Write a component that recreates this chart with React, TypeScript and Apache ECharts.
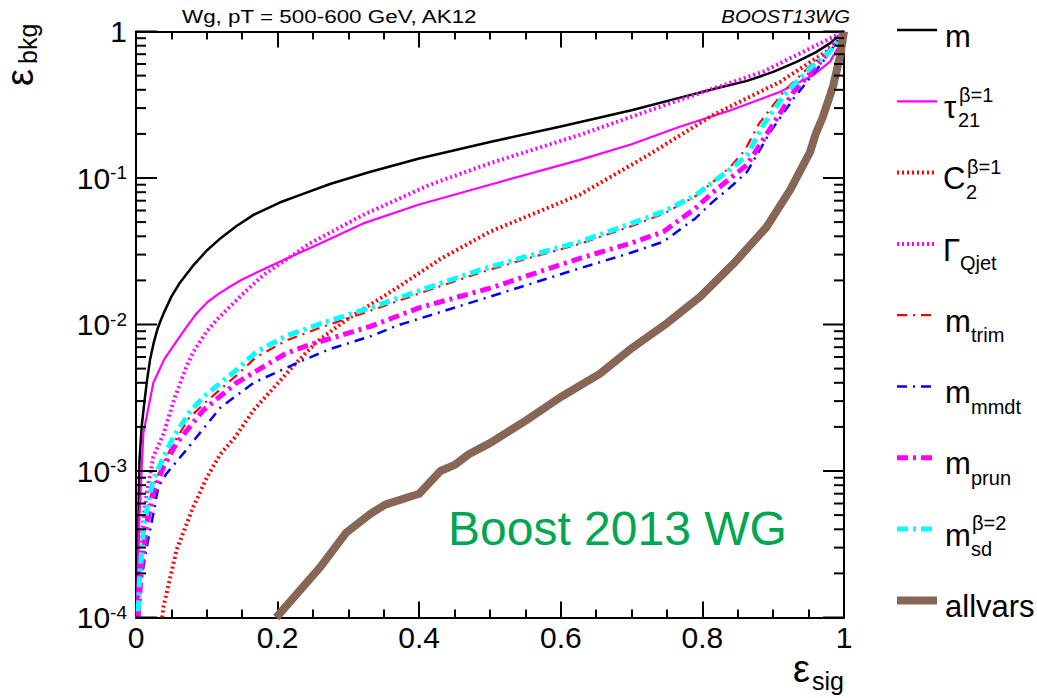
import React, { useEffect, useRef } from 'react';
import * as echarts from 'echarts';

const FONT = '"Liberation Sans", Arial, Helvetica, sans-serif';

// ROC curves: [signal efficiency, background efficiency]
const rocMass = [
  [0.002, 0.0001], [0.003, 0.0003], [0.004, 0.0007], [0.005, 0.0012], [0.008, 0.002],
  [0.012, 0.003], [0.016, 0.0043], [0.02, 0.0058], [0.025, 0.0075], [0.03, 0.0092],
  [0.035, 0.0107], [0.04, 0.0122], [0.05, 0.0155], [0.062, 0.0193], [0.08, 0.025],
  [0.1, 0.032], [0.12, 0.039], [0.142, 0.047], [0.166, 0.056], [0.203, 0.068],
  [0.236, 0.078], [0.274, 0.091], [0.33, 0.11], [0.4, 0.136], [0.5, 0.176], [0.6, 0.225],
  [0.7, 0.29], [0.77, 0.355], [0.82, 0.41], [0.863, 0.46], [0.9, 0.53], [0.933, 0.62],
  [0.96, 0.72], [0.98, 0.83], [0.994, 0.946], [1, 1],
];
const rocTau21 = [
  [0.001, 0.0001], [0.004, 0.0004], [0.0103, 0.0018], [0.0245, 0.004], [0.04, 0.0058],
  [0.055, 0.0074], [0.07, 0.0094], [0.085, 0.0118], [0.1, 0.0141], [0.115, 0.016],
  [0.13, 0.0178], [0.15, 0.0203], [0.193, 0.0255], [0.25, 0.034], [0.321, 0.049],
  [0.4, 0.066], [0.5, 0.09], [0.627, 0.133], [0.7, 0.17], [0.768, 0.224], [0.84, 0.29],
  [0.91, 0.388], [0.957, 0.505], [0.98, 0.62], [0.994, 0.81], [1, 1],
];
const rocC2 = [
  [0.037, 0.0001], [0.039, 0.00012], [0.0574, 0.00029], [0.081, 0.00057], [0.1, 0.0009],
  [0.119, 0.0013], [0.14, 0.0017], [0.166, 0.0026], [0.222, 0.0052], [0.255, 0.0076],
  [0.3, 0.011], [0.368, 0.0177], [0.43, 0.028], [0.5, 0.043], [0.627, 0.077],
  [0.72, 0.14], [0.815, 0.269], [0.91, 0.454], [0.975, 0.728], [1, 1],
];
const rocQjet = [
  [0.003, 0.0001], [0.0056, 0.00029], [0.015, 0.0007], [0.0245, 0.00125], [0.039, 0.0018],
  [0.055, 0.0032], [0.0716, 0.0052], [0.081, 0.0065], [0.1, 0.009], [0.119, 0.0114],
  [0.15, 0.016], [0.18, 0.0218], [0.246, 0.0358], [0.321, 0.056], [0.415, 0.09],
  [0.5, 0.126], [0.627, 0.197], [0.768, 0.341], [0.886, 0.532], [0.957, 0.788], [1, 1],
];
const rocTrim = [
  [0.003, 0.0001], [0.006, 0.0002], [0.011, 0.00036], [0.018, 0.0006], [0.025, 0.0008],
  [0.04, 0.00118], [0.055, 0.0016], [0.075, 0.0023], [0.1, 0.003], [0.142, 0.0045],
  [0.17, 0.006], [0.213, 0.0078], [0.27, 0.0099], [0.331, 0.0124], [0.4, 0.0163],
  [0.486, 0.0226], [0.55, 0.028], [0.627, 0.0355], [0.7, 0.047], [0.745, 0.057],
  [0.79, 0.075], [0.815, 0.094], [0.84, 0.12], [0.86, 0.155], [0.88, 0.235],
  [0.915, 0.39], [0.955, 0.6], [0.98, 0.74], [1, 1],
];
const rocMmdt = [
  [0.002, 0.0001], [0.0056, 0.00016], [0.015, 0.0003], [0.0245, 0.00051], [0.0315, 0.00078],
  [0.043, 0.00096], [0.0716, 0.0014], [0.081, 0.0016], [0.119, 0.0027], [0.166, 0.004],
  [0.236, 0.0057], [0.274, 0.0068], [0.331, 0.0083], [0.368, 0.0098], [0.5, 0.0155],
  [0.627, 0.0242], [0.7, 0.031], [0.745, 0.0368], [0.79, 0.053], [0.815, 0.069],
  [0.84, 0.087], [0.863, 0.11], [0.896, 0.207], [0.929, 0.35], [0.97, 0.62], [1, 1],
];
const rocPrun = [
  [0.003, 0.0001], [0.008, 0.00022], [0.015, 0.00042], [0.0245, 0.0007], [0.039, 0.00107],
  [0.0574, 0.00155], [0.095, 0.0026], [0.142, 0.004], [0.213, 0.0064], [0.25, 0.0074],
  [0.331, 0.0097], [0.4, 0.013], [0.5, 0.0177], [0.627, 0.0283], [0.7, 0.036],
  [0.745, 0.043], [0.79, 0.062], [0.815, 0.08], [0.84, 0.1], [0.863, 0.123],
  [0.896, 0.218], [0.929, 0.388], [0.975, 0.69], [1, 1],
];
const rocSoftDrop = [
  [0.003, 0.00011], [0.0056, 0.0002], [0.0103, 0.00038], [0.0174, 0.00063], [0.0245, 0.00087],
  [0.039, 0.00125], [0.0527, 0.0017], [0.075, 0.0025], [0.095, 0.0032], [0.142, 0.0049],
  [0.17, 0.0065], [0.213, 0.0084], [0.27, 0.0105], [0.331, 0.013], [0.4, 0.017],
  [0.486, 0.0236], [0.55, 0.029], [0.627, 0.0367], [0.7, 0.049], [0.745, 0.059],
  [0.79, 0.076], [0.815, 0.094], [0.84, 0.115], [0.863, 0.143], [0.886, 0.23],
  [0.919, 0.388], [0.957, 0.59], [0.98, 0.728], [1, 1],
];
const rocAllVars = [
  [0.198, 0.0001], [0.23, 0.00015], [0.26, 0.00022], [0.297, 0.00038], [0.331, 0.00051],
  [0.352, 0.00059], [0.4, 0.0007], [0.43, 0.001], [0.45, 0.0011], [0.47, 0.0013],
  [0.5, 0.00155], [0.55, 0.0022], [0.6, 0.0032], [0.655, 0.0046], [0.702, 0.007],
  [0.75, 0.0102], [0.797, 0.0155], [0.844, 0.026], [0.891, 0.0465], [0.924, 0.083],
  [0.952, 0.15], [0.96, 0.2], [0.97, 0.26], [0.985, 0.43], [0.995, 0.7], [1, 1],
];

// Log-axis tick positions: decades (major) and 2..9 within each decade (minor)
const decades = [1e-4, 1e-3, 1e-2, 1e-1];
const minorMultipliers = [2, 3, 4, 5, 6, 7, 8, 9];
const majorTickValues = [1e-4, 1e-3, 1e-2, 1e-1, 1];

const titleText = 'Wg, pT = 500-600 GeV, AK12';
const groupText = 'BOOST13WG';
const watermarkText = 'Boost 2013 WG';

// Plot frame geometry (pixels)
const GRID = { left: 136, top: 31.5, right: 193, bottom: 80.5 };
const CHART_W = 1037;
const CHART_H = 698;

type Curve = {
  name: string;
  data: number[][];
  color: string;
  width: number;
  dash: number[] | null;
  base: string;
  sub?: string;
  sup?: string;
};

const curves: Curve[] = [
  { name: 'm', data: rocMass, color: '#000000', width: 2.5, dash: null, base: 'm' },
  { name: 'tau21', data: rocTau21, color: '#ff00ff', width: 2.2, dash: null, base: 'τ', sub: '21', sup: 'β=1' },
  { name: 'C2', data: rocC2, color: '#ff0000', width: 4, dash: [2, 3], base: 'C', sub: '2', sup: 'β=1' },
  { name: 'GammaQjet', data: rocQjet, color: '#ff00ff', width: 4, dash: [2, 3], base: 'Γ', sub: 'Qjet' },
  { name: 'mtrim', data: rocTrim, color: '#ff0000', width: 2.2, dash: [10, 6, 2, 6], base: 'm', sub: 'trim' },
  { name: 'mmmdt', data: rocMmdt, color: '#0000ff', width: 2.5, dash: [10, 6, 2, 6], base: 'm', sub: 'mmdt' },
  { name: 'mprun', data: rocPrun, color: '#ff00ff', width: 5, dash: [11, 5, 3, 5], base: 'm', sub: 'prun' },
  { name: 'msd', data: rocSoftDrop, color: '#00ffff', width: 5, dash: [11, 5, 3, 5], base: 'm', sub: 'sd', sup: 'β=2' },
  { name: 'allvars', data: rocAllVars, color: '#876656', width: 8, dash: null, base: 'allvars' },
];

// Text placed by its alphabetic baseline (SVG uses a central baseline for "middle")
function textAt(x: number, baseline: number, text: string, fs: number, extra: any = {}) {
  return {
    type: 'text',
    x,
    y: baseline - 0.35 * fs,
    silent: true,
    style: {
      text,
      fontSize: fs,
      fontFamily: FONT,
      fill: '#000',
      align: 'left',
      textAlign: 'left',
      verticalAlign: 'middle',
      textVerticalAlign: 'middle',
      ...extra,
    },
  };
}

function buildLegend() {
  const els: any[] = [];
  const subX: Record<string, number> = { m: 971, 'τ': 958, C: 966, 'Γ': 960 };
  const baseX: Record<string, number> = { m: 945, 'τ': 944, C: 943, 'Γ': 943, allvars: 945 };
  curves.forEach((c, i) => {
    const baseline = 47 + i * 71.3;
    const ly = baseline - 17;
    els.push({
      type: 'line',
      silent: true,
      shape: { x1: 897, y1: ly, x2: 937, y2: ly },
      style: { stroke: c.color, lineWidth: c.width, lineDash: c.dash || undefined, lineCap: 'butt' },
    });
    els.push(textAt(baseX[c.base] ?? 945, baseline, c.base, 31));
    const sx = subX[c.base] ?? 971;
    if (c.sub) els.push(textAt(sx, baseline + (c.base === 'm' ? 10 : 9), c.sub, 20));
    if (c.sup) els.push(textAt(sx + 1, baseline - 16, c.sup, 20));
  });
  return els;
}

// Inward ticks on both vertical frame edges, from the log scale of the frame
function buildLogTicks() {
  const plotW = CHART_W - GRID.left - GRID.right;
  const plotH = CHART_H - GRID.top - GRID.bottom;
  const logMin = Math.log10(1e-4);
  const els: any[] = [];
  const yOf = (v: number) => GRID.top + plotH * (Math.log10(v) / logMin);
  const xL = GRID.left;
  const xR = GRID.left + plotW;
  const style = { stroke: '#000000', lineWidth: 2 };
  const add = (v: number, len: number) => {
    const y = yOf(v);
    els.push({ type: 'line', silent: true, z: 100, shape: { x1: xL, y1: y, x2: xL + len, y2: y }, style });
    els.push({ type: 'line', silent: true, z: 100, shape: { x1: xR - len, y1: y, x2: xR, y2: y }, style });
  };
  decades.forEach((d) => minorMultipliers.forEach((k) => add(d * k, 10)));
  majorTickValues.forEach((v) => add(v, 21));
  return els;
}

function buildGraphics() {
  return [
    { ...textAt(182, 23, titleText, 19), scaleX: 1.18 },
    { ...textAt(850, 23, groupText, 19, { fontStyle: 'italic', align: 'right', textAlign: 'right' }), scaleX: 1.07 },
    textAt(448, 545, watermarkText, 48, { fill: '#00a651' }),
    // x-axis title: ε_sig
    textAt(793, 682, 'ε', 38),
    textAt(812, 690, 'sig', 25),
    // y-axis title: ε_bkg, rotated to read upward
    { ...textAt(0, 0, 'ε', 38), x: 33 - 0.35 * 38, y: 86, rotation: Math.PI / 2 },
    { ...textAt(0, 0, 'bkg', 25), x: 37 - 0.35 * 25, y: 64, rotation: Math.PI / 2 },
    ...buildLegend(),
    ...buildLogTicks(),
  ];
}

function buildOption() {
  const axisLineStyle = { color: '#000', width: 2 };
  const tickStyle = { color: '#000', width: 2 };
  const xAxisCommon = {
    type: 'value',
    min: 0,
    max: 1,
    interval: 0.2,
    axisLine: { show: true, onZero: false, lineStyle: axisLineStyle },
    axisTick: { show: true, inside: true, length: 16, lineStyle: tickStyle },
    minorTick: { show: true, splitNumber: 4, length: 8, lineStyle: tickStyle },
    splitLine: { show: false },
    minorSplitLine: { show: false },
  };
  const yAxisCommon = {
    type: 'log',
    logBase: 10,
    min: 0.0001,
    max: 1,
    axisLine: { show: true, onZero: false, lineStyle: axisLineStyle },
    axisTick: { show: false },
    splitLine: { show: false },
  };

  const lineSeries = curves.map((c) => ({
    type: 'line',
    name: c.name,
    data: c.data,
    xAxisIndex: 0,
    yAxisIndex: 0,
    showSymbol: false,
    symbol: 'none',
    smooth: false,
    clip: true,
    silent: true,
    lineStyle: {
      color: c.color,
      width: c.width,
      type: c.dash ? c.dash : 'solid',
      cap: 'butt',
      join: 'round',
    },
  }));

  return {
    animation: false,
    backgroundColor: '#ffffff',
    textStyle: { fontFamily: FONT },
    grid: { ...GRID, containLabel: false, outerBoundsMode: 'none' },
    xAxis: [
      {
        ...xAxisCommon,
        position: 'bottom',
        axisLabel: {
          show: true,
          color: '#000',
          fontSize: 30,
          fontFamily: FONT,
          margin: 5,
          formatter: (v: number) => String(+v.toFixed(1)),
        },
      },
      { ...xAxisCommon, position: 'top', axisLabel: { show: false } },
    ],
    yAxis: [
      {
        ...yAxisCommon,
        position: 'left',
        axisLabel: {
          show: true,
          margin: 9,
          formatter: (v: number) => {
            const e = Math.round(Math.log10(v));
            return e === 0 ? '{b|1}' : `{b|10}{e|${e}}`;
          },
          rich: {
            b: { fontSize: 30, fontFamily: FONT, color: '#000' },
            e: { fontSize: 19, fontFamily: FONT, color: '#000', verticalAlign: 'top' },
          },
        },
      },
      { ...yAxisCommon, position: 'right', axisLabel: { show: false } },
    ],
    series: lineSeries,
    graphic: buildGraphics(),
  };
}

export default function App() {
  const ref = useRef<HTMLDivElement>(null);
  useEffect(() => {
    if (!ref.current) return;
    const chart = echarts.init(ref.current, undefined, { renderer: 'svg' });
    chart.setOption(buildOption() as any);
    return () => chart.dispose();
  }, []);
  return (
    <div
      ref={ref}
      style={{ position: 'fixed', left: 0, top: 0, width: CHART_W, height: CHART_H, background: '#fff' }}
    />
  );
}
